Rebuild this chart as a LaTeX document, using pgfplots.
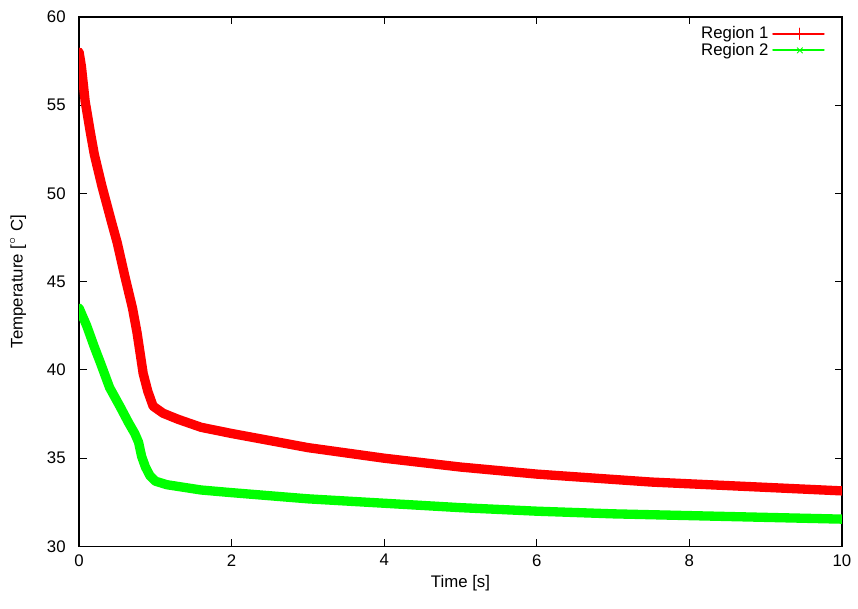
\documentclass[border=0pt]{standalone}
\usepackage{pgfplots}
\pgfplotsset{compat=1.18}
\usepackage{fontspec}
\setmainfont{Liberation Sans}
\begin{document}
\small
\begin{tikzpicture}
\begin{axis}[
  scale only axis,
  width=409pt, height=284pt,
  xmin=0, xmax=10, ymin=30, ymax=60,
  xtick={0,2,...,10}, ytick={30,35,...,60},
  tick align=inside, major tick length=4pt,
  tick style={black, line width=0.6pt},
  axis line style={line width=0.8pt},
  /pgf/number format/assume math mode=true,
  yticklabel style={xshift=-4pt},
  xticklabel style={yshift=-1pt},
  xlabel={Time [s]}, ylabel={Temperature [$^{\circ}$ C]},
  xlabel style={at={(axis description cs:0.5,-0.07)}, anchor=center},
  ylabel style={at={(axis description cs:-0.08,0.5)}, anchor=center},
  legend style={draw=none, fill=none, at={(axis description cs:1,1)}, anchor=north east, xshift=-6pt, yshift=-1pt, row sep=-3pt},
  legend cell align=right,
  legend plot pos=right,
]
\addplot[red, line width=5pt, line join=round, line cap=round,
  legend image code/.code={\draw[line width=1.2pt] (0cm,0cm) -- (0.95cm,0cm);
     \draw[line width=0.6pt] plot[mark=+, mark size=3pt] coordinates {(0.5cm,0cm)};}] coordinates {
(0,58.0)(0.03,57.2)(0.08,55.2)(0.15,53.4)(0.2,52.2)(0.3,50.4)(0.43,48.3)(0.5,47.2)(0.6,45.3)(0.7,43.5)(0.76,42.1)(0.84,39.8)(0.9,38.8)(0.97,37.95)(1.1,37.55)(1.3,37.2)(1.6,36.75)(2,36.4)(2.5,36.0)(3,35.6)(3.5,35.3)(4,35.0)(4.5,34.75)(5,34.5)(5.5,34.3)(6,34.1)(6.5,33.95)(7,33.8)(7.5,33.65)(8,33.55)(8.5,33.45)(9,33.35)(9.5,33.25)(10,33.15)
};
\addlegendentry{Region 1}
\addplot[green, line width=5pt, line join=round, line cap=round,
  legend image code/.code={\draw[line width=1.2pt] (0cm,0cm) -- (0.95cm,0cm);
     \draw[line width=0.5pt] plot[mark=x, mark size=2pt] coordinates {(0.5cm,0cm)};}] coordinates {
(0,43.5)(0.03,43.2)(0.1,42.5)(0.2,41.3)(0.28,40.4)(0.4,39.0)(0.54,37.9)(0.65,37.0)(0.73,36.4)(0.78,35.9)(0.82,35.1)(0.87,34.5)(0.93,34.0)(1.0,33.7)(1.15,33.5)(1.6,33.2)(2,33.05)(3,32.7)(4,32.45)(5,32.2)(6,32.0)(7,31.85)(8,31.75)(9,31.65)(10,31.55)
};
\addlegendentry{Region 2}
\end{axis}
\pgfresetboundingbox
\path[use as bounding box] ([xshift=-42.4pt,yshift=-33pt]current axis.south west) rectangle ([xshift=8.6pt,yshift=9pt]current axis.north east);
\end{tikzpicture}
\end{document}
